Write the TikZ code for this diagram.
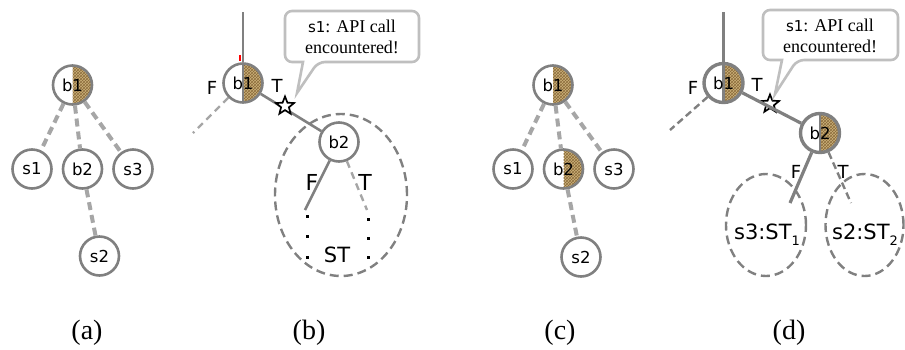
\documentclass[tikz,border=0pt]{standalone}
\usepackage{fontspec}
\setmainfont{Liberation Serif}
\newfontfamily\vsans{DejaVu Sans}
\usetikzlibrary{shapes.geometric,patterns}

\definecolor{ringgray}{RGB}{128,128,128}
\definecolor{softgray}{RGB}{166,166,166}
\definecolor{balloongray}{RGB}{191,191,191}
\definecolor{burlaptan}{RGB}{204,178,122}
\definecolor{burlapdark}{RGB}{140,108,60}

\tikzset{
  vtx/.style={circle, draw=ringgray, line width=2.6pt, fill=white,
    minimum size=39pt, inner sep=0pt, font=\vsans\fontsize{16.5}{19}\selectfont},
  heavyring/.style={line width=3.4pt},
  % right half filled with a woven texture
  wovenhalf/.style={path picture={
    \fill[burlaptan] (path picture bounding box.north) rectangle (path picture bounding box.south east);
    \fill[pattern=crosshatch, pattern color=burlapdark]
      (path picture bounding box.north) rectangle (path picture bounding box.south east);}},
  % same, with a divider between the halves
  wovensplit/.style={path picture={
    \fill[burlaptan] (path picture bounding box.north) rectangle (path picture bounding box.south east);
    \fill[pattern=crosshatch, pattern color=burlapdark]
      (path picture bounding box.north) rectangle (path picture bounding box.south east);
    \draw[ringgray, line width=2.2pt] (path picture bounding box.north) -- (path picture bounding box.south);}},
  treeedge/.style={draw=softgray, line width=4pt, dash pattern=on 8pt off 5pt},
  branch/.style={draw=ringgray, line width=2.6pt},
  thickbranch/.style={draw=ringgray, line width=3.6pt},
  faintbranch/.style={draw=softgray, line width=2.4pt, dash pattern=on 7pt off 5pt},
  ghostbranch/.style={draw=ringgray, line width=2.4pt, dash pattern=on 7pt off 4pt},
  region/.style={ellipse, draw=ringgray, line width=2.4pt, dash pattern=on 9pt off 5pt, inner sep=0pt},
  lbl/.style={inner sep=0pt, font=\vsans\fontsize{18}{20}\selectfont},
  biglbl/.style={inner sep=0pt, font=\vsans\fontsize{22}{24}\selectfont},
  stlbl/.style={inner sep=0pt, font=\vsans\fontsize{21}{24}\selectfont},
  balloon/.style={draw=balloongray, line width=2.6pt, fill=white},
  balloontext/.style={inner sep=0pt, align=center, font=\fontsize{18}{21}\selectfont},
  hit/.style={star, star points=5, star point ratio=2.3, draw=black, fill=white,
    line width=1.7pt, minimum size=19pt, inner sep=0pt},
  dotmark/.style={rectangle, fill=black, minimum size=3pt, inner sep=0pt},
  caption/.style={inner sep=0pt, font=\fontsize{28}{30}\selectfont},
}
\newcommand{\sone}{{\vsans\fontsize{15}{18}\selectfont s1}}
\newcommand{\subd}[1]{\raisebox{-0.3em}{\fontsize{13}{13}\selectfont #1}}

\begin{document}
\begin{tikzpicture}[x=1pt, y=-1pt]
\useasboundingbox (0,0) rectangle (905,349);

% ---------------- (a) ----------------
\node[vtx, wovenhalf] (a1) at (72.5,85) {b1};
\node[vtx] (as1) at (32,169) {s1};
\node[vtx] (ab2) at (82.5,169) {b2};
\node[vtx] (as3) at (133,169) {s3};
\node[vtx] (as2) at (99.5,256) {s2};
\path[treeedge] (a1) -- (as1) (a1) -- (ab2) (a1) -- (as3) (ab2) -- (as2);

% ---------------- (b) ----------------
\node[region, minimum width=132pt, minimum height=162pt] (bst) at (341,195) {};
\coordinate (btop) at (243,12);
\coordinate (bf) at (193,133);
\coordinate (bbf) at (305,210);
\coordinate (bbt) at (367,210);
\node[vtx, wovensplit] (b1) at (243,83) {b1};
\node[vtx] (b2) at (339,142) {b2};
\draw[branch] (btop) -- (b1);
\draw[red, line width=2pt] (239.5,55) -- (239.5,61);
\draw[faintbranch] (b1) -- (bf);
\draw[branch] (b1) -- (b2);
\draw[branch] (b2) -- (bbf);
\draw[faintbranch] (b2) -- (bbt);
\node[hit] (bstar) at (285,106) {};
\node[lbl] (bF) at (212,88) {F};
\node[lbl] (bT) at (277,86) {T};
\node[biglbl] (bbF) at (312,182) {F};
\node[biglbl] (bbT) at (365,182) {T};
\foreach \yy in {216,236,257} \node[dotmark] at (307,\yy) {};
\foreach \yy in {219,238,257} \node[dotmark] at (368,\yy) {};
\node[stlbl] (bstl) at (337,255) {ST};
\draw[balloon] (303,62) [rounded corners=7pt] -- (285,62) -- (285,11) -- (419,11) -- (419,62) -- (318,62)
  [sharp corners] -- (297,93) -- cycle;
\node[balloontext] (bmsg) at (352,37) {\sone: API call\\encountered!};

% ---------------- (c) ----------------
\node[vtx, wovenhalf] (c1) at (553,85) {b1};
\node[vtx] (cs1) at (513,169) {s1};
\node[vtx, wovenhalf] (cb2) at (563.5,169) {b2};
\node[vtx] (cs3) at (614,169) {s3};
\node[vtx] (cs2) at (581,257) {s2};
\path[treeedge] (c1) -- (cs1) (c1) -- (cb2) (c1) -- (cs3) (cb2) -- (cs2);

% ---------------- (d) ----------------
\node[region, minimum width=80pt, minimum height=102pt] (dst1) at (766,225) {};
\node[region, minimum width=78pt, minimum height=102pt] (dst2) at (864.5,225) {};
\coordinate (dtop) at (723.5,12);
\coordinate (df) at (670,130);
\coordinate (dbf) at (790,203);
\coordinate (dbt) at (851,203);
\node[vtx, heavyring, wovensplit] (d1) at (723.5,83) {b1};
\node[vtx, heavyring, wovensplit] (d2) at (820,133) {b2};
\node[hit] (dstar) at (770,104) {};
\draw[thickbranch] (dtop) -- (d1);
\draw[ghostbranch] (d1) -- (df);
\draw[branch, line width=3.2pt] (d1) -- (d2);
\draw[branch, line width=3.2pt] (d2) -- (dbf);
\draw[ghostbranch] (d2) -- (dbt);
\node[lbl] (dF) at (693,88) {F};
\node[lbl] (dT) at (757,85) {T};
\node[lbl] (dbF) at (796,172) {F};
\node[lbl] (dbT) at (843,172) {T};
\node[stlbl] (dl1) at (767,235) {s3:ST\subd{1}};
\node[stlbl] (dl2) at (865,235) {s2:ST\subd{2}};
\draw[balloon] (782,60) [rounded corners=7pt] -- (763,60) -- (763,10) -- (898,10) -- (898,60) -- (797,60)
  [sharp corners] -- (775,94) -- cycle;
\node[balloontext] (dmsg) at (830,36) {\sone: API call\\encountered!};

% ---------------- captions ----------------
\node[caption] (capa) at (87,333) {(a)};
\node[caption] (capb) at (309,333) {(b)};
\node[caption] (capc) at (560,333) {(c)};
\node[caption] (capd) at (789,333) {(d)};
\end{tikzpicture}
\end{document}
